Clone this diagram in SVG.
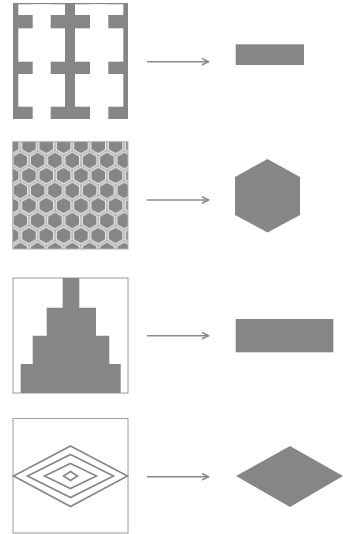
<svg xmlns="http://www.w3.org/2000/svg" width="343" height="534" viewBox="0 0 343 534">
  <style>
    .fill { fill: #868686; }
    .frame { fill: none; stroke: #9c9c9c; stroke-width: 1; }
    .ring { fill: none; stroke: #868686; stroke-width: 1.6; }
    .conn { fill: none; stroke: #8a8a8a; stroke-width: 1.6; stroke-linecap: round; stroke-linejoin: round; }
  </style>
  <defs>
    <!-- pointy-top hexagon rings on a 17.32 x 15 grid, each ring drawn on its own -->
    <pattern id="honeycomb" patternUnits="userSpaceOnUse" x="3" y="145.5" width="17.32" height="30">
      <rect width="17.32" height="30" fill="#868686"/>
      <g fill="none" stroke="#f4f4f4" stroke-width="1.35">
        <polygon points="8.66,-8.7 16.19,-4.35 16.19,4.35 8.66,8.7 1.13,4.35 1.13,-4.35"/>
        <polygon points="8.66,21.3 16.19,25.65 16.19,34.35 8.66,38.7 1.13,34.35 1.13,25.65"/>
        <polygon points="0,6.3 7.53,10.65 7.53,19.35 0,23.7 -7.53,19.35 -7.53,10.65"/>
        <polygon points="17.32,6.3 24.85,10.65 24.85,19.35 17.32,23.7 9.79,19.35 9.79,10.65"/>
      </g>
    </pattern>
    <marker id="head" markerWidth="10" markerHeight="10" refX="7" refY="4" orient="auto" markerUnits="userSpaceOnUse">
      <path d="M0,0.5 L7,4 L0,7.5" fill="none" stroke="#8a8a8a" stroke-width="1.6" stroke-linecap="round" stroke-linejoin="round"/>
    </marker>
  </defs>
  <rect width="343" height="534" fill="#ffffff"/>

  <!-- Row 1: I-shaped openings in a solid sheet -->
  <g id="tile-ibeam">
    <rect class="fill" x="13" y="3" width="115" height="116"/>
    <g fill="#ffffff">
      <rect x="18.3" y="4.3" width="46.7" height="10.7"/>
      <rect x="32.7" y="4.3" width="18" height="114.7"/>
      <rect x="18.3" y="28.3" width="46.7" height="33.4"/>
      <rect x="18.3" y="74" width="46.7" height="32.7"/>
      <rect x="75" y="4.3" width="48.3" height="10.7"/>
      <rect x="90" y="4.3" width="18.3" height="114.7"/>
      <rect x="75" y="28.3" width="48.3" height="33.4"/>
      <rect x="75" y="74" width="48.3" height="32.7"/>
    </g>
  </g>
  <g id="result-bar">
    <rect class="fill" x="235.7" y="44.3" width="68.3" height="20.7"/>
  </g>

  <!-- Row 2: honeycomb -->
  <g id="tile-honeycomb">
    <rect x="12.7" y="141.7" width="115.3" height="107.3" fill="url(#honeycomb)"/>
    <rect x="12.7" y="141.7" width="115.3" height="107.3" fill="none" stroke="#b0b0b0" stroke-width="1"/>
  </g>
  <g id="result-hexagon">
    <polygon class="fill" points="267.5,159 300,177 300,215 267.5,232.5 235,215 235,177"/>
  </g>

  <!-- Row 3: stepped pyramid -->
  <g id="tile-steps">
    <rect class="frame" x="13" y="278" width="115" height="115"/>
    <path class="fill" d="M62.7,278 H79.3 V307.7 H96 V335.7 H109.3 V364 H120.7 V393 H20.7 V364 H32.7 V335.7 H46.7 V307.7 H62.7 Z"/>
  </g>
  <g id="result-block">
    <rect class="fill" x="235.7" y="319" width="97.6" height="33.3"/>
  </g>

  <!-- Row 4: nested diamonds -->
  <g id="tile-diamonds">
    <rect class="frame" x="13" y="418.5" width="115" height="114.5"/>
    <polygon class="ring" points="70.5,446 127.5,476 70.5,506.5 13.5,476"/>
    <polygon class="ring" points="70.5,454.5 113.5,476 70.5,497.5 27.5,476"/>
    <polygon class="ring" points="70.5,463.5 96.5,476 70.5,488.5 44.5,476"/>
    <polygon class="ring" points="70.5,471.5 77.5,476 70.5,480.5 63.5,476"/>
  </g>
  <g id="result-diamond">
    <polygon class="fill" points="290,446 343,476 290,507 236,476"/>
  </g>

  <!-- Connectors -->
  <g id="connectors">
    <line class="conn" x1="147.5" y1="61.7" x2="208.5" y2="61.7" marker-end="url(#head)"/>
    <line class="conn" x1="147.5" y1="200" x2="208.5" y2="200" marker-end="url(#head)"/>
    <line class="conn" x1="147.5" y1="335.7" x2="208.5" y2="335.7" marker-end="url(#head)"/>
    <line class="conn" x1="147.5" y1="476.7" x2="208.5" y2="476.7" marker-end="url(#head)"/>
  </g>
</svg>
